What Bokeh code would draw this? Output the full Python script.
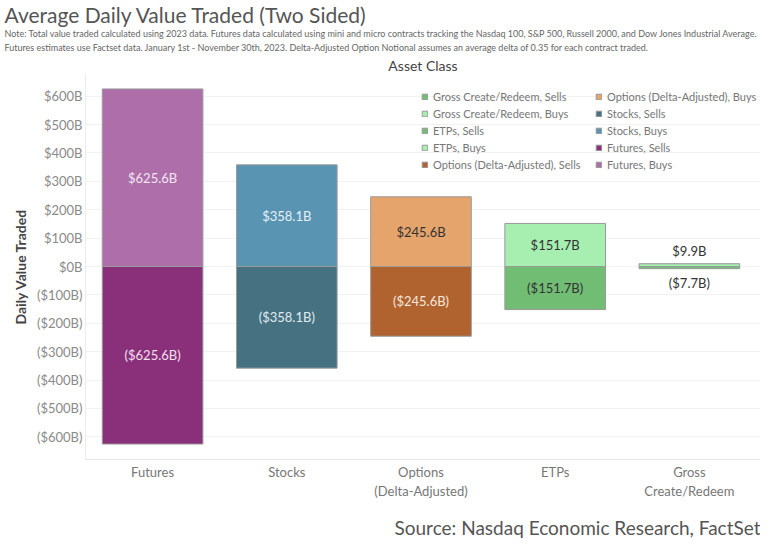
from bokeh.plotting import figure
from bokeh.models import (ColumnDataSource, FixedTicker, CustomJSTickFormatter, Range1d,
                          Legend, LegendItem, Title)
from bokeh.core.properties import value
from bokeh.embed import file_html
from bokeh.resources import INLINE

# ---- data ----
categories = ["Futures", "Stocks", "Options\n(Delta-Adjusted)", "ETPs", "Gross\nCreate/Redeem"]
buys = [625.6, 358.1, 245.6, 151.7, 9.9]
sells = [-625.6, -358.1, -245.6, -151.7, -7.7]
buy_colors = ["#ad6ea9", "#5a94b3", "#e5a46c", "#a6efb0", "#a6efb0"]
sell_colors = ["#8a2f79", "#457181", "#b0622f", "#71bd74", "#71bd74"]
buy_text_colors = ["#f2e6f1", "#e6f0f5", "#333333", "#333333", "#333333"]
sell_text_colors = ["#f0e0ee", "#e0ecf0", "#f5e8de", "#333333", "#333333"]
legend_names = ["Futures", "Stocks", "Options (Delta-Adjusted)", "ETPs", "Gross Create/Redeem"]
y_ticks = [-600, -500, -400, -300, -200, -100, 0, 100, 200, 300, 400, 500, 600]

FONT = "Lato"
x = [i + 0.5 for i in range(len(categories))]

def fmt(v):
    return "$%.1fB" % v if v >= 0 else "($%.1fB)" % (-v)

big = [abs(b) > 50 for b in buys]
src_b = ColumnDataSource(dict(x=x, top=buys, color=buy_colors))
src_s = ColumnDataSource(dict(x=x, top=sells, color=sell_colors))

W, H = 760, 550
FL, FT, FB = 85, 73, 460   # frame left / top / bottom in picture pixels
p = figure(width=W, height=H, output_backend="svg", toolbar_location=None,
           x_range=Range1d(0, 5.03), y_range=Range1d(-680, 680),
           min_border_left=FL, min_border_right=0, min_border_top=FT, min_border_bottom=H - FB)
p.outline_line_color = None
p.background_fill_color = "white"

rb = p.vbar(x="x", top="top", bottom=0, width=0.75, source=src_b, fill_color="color",
            line_color="#9a9a9a", line_width=1)
rs = p.vbar(x="x", top="top", bottom=0, width=0.75, source=src_s, fill_color="color",
            line_color="#9a9a9a", line_width=1)

# labels inside big bars
n_big = sum(big)
bsrc_in = ColumnDataSource(dict(x=x[:n_big], y=[b / 2 for b in buys[:n_big]],
                                t=[fmt(b) for b in buys[:n_big]], c=buy_text_colors[:n_big]))
ssrc_in = ColumnDataSource(dict(x=x[:n_big], y=[s / 2 for s in sells[:n_big]],
                                t=[fmt(s) for s in sells[:n_big]], c=sell_text_colors[:n_big]))
for s in (bsrc_in, ssrc_in):
    p.text(x="x", y="y", text="t", source=s, text_color="c", text_align="center",
           text_baseline="middle", text_font=value(FONT), text_font_size="13px")
# labels outside the small bar
bsrc_out = ColumnDataSource(dict(x=x[n_big:], y=buys[n_big:], t=[fmt(b) for b in buys[n_big:]]))
ssrc_out = ColumnDataSource(dict(x=x[n_big:], y=sells[n_big:], t=[fmt(s) for s in sells[n_big:]]))
p.text(x="x", y="y", text="t", source=bsrc_out, text_color="#333333", text_align="center",
       text_baseline="bottom", y_offset=-5, text_font=value(FONT), text_font_size="13px")
p.text(x="x", y="y", text="t", source=ssrc_out, text_color="#333333", text_align="center",
       text_baseline="top", y_offset=6, text_font=value(FONT), text_font_size="13px")

# axes
p.yaxis.ticker = FixedTicker(ticks=y_ticks)
p.yaxis.formatter = CustomJSTickFormatter(code="return tick >= 0 ? '$' + tick + 'B' : '($' + (-tick) + 'B)';")
p.yaxis.axis_label = "Daily Value Traded"
p.yaxis.axis_label_text_font = FONT
p.yaxis.axis_label_text_font_style = "bold"
p.yaxis.axis_label_text_font_size = "14px"
p.yaxis.axis_label_text_color = "#444444"
p.yaxis.axis_label_standoff = 5
p.yaxis.major_label_text_font = FONT
p.yaxis.major_label_text_font_size = "13px"
p.yaxis.major_label_text_color = "#8a8a8a"
p.yaxis.axis_line_color = "#ececec"
p.yaxis.major_tick_line_color = None
p.yaxis.minor_tick_line_color = None
p.yaxis.major_tick_out = 0
p.yaxis.major_tick_in = 0
p.yaxis.major_label_standoff = 3

p.xaxis.ticker = FixedTicker(ticks=x)
p.xaxis.major_label_overrides = {xi: c for xi, c in zip(x, categories)}
p.xaxis.major_label_text_font = FONT
p.xaxis.major_label_text_font_size = "13px"
p.xaxis.major_label_text_color = "#777777"
p.xaxis.axis_line_color = "#e6e6e6"
p.xaxis.major_tick_line_color = None
p.xaxis.minor_tick_line_color = None
p.xaxis.major_tick_out = 0
p.xaxis.major_tick_in = 0
p.xaxis.major_label_standoff = 4

p.xgrid.grid_line_color = None
p.ygrid.ticker = FixedTicker(ticks=y_ticks)
p.ygrid.grid_line_color = "#f2f2f2"

# legend
order = [("s", 4), ("b", 4), ("s", 3), ("b", 3), ("s", 2), ("b", 2), ("s", 1), ("b", 1), ("s", 0), ("b", 0)]
items = []
for kind, i in order:
    r = rs if kind == "s" else rb
    items.append(LegendItem(label=legend_names[i] + (", Sells" if kind == "s" else ", Buys"),
                            renderers=[r], index=i))
leg = Legend(items=items, location=(421 - FL, FB - 172), nrows=5, orientation="vertical",
             label_text_font=FONT, label_text_font_size="11px", label_text_color="#777777",
             glyph_width=7, glyph_height=7, label_height=11, label_width=158, label_standoff=5,
             spacing=4, padding=0, margin=0, border_line_color=None, background_fill_alpha=0)
p.add_layout(leg, "center")

# titles (stacked outward from the frame)
def add_title(txt, size, color, standoff, side="above", align="left", offset=4 - FL, style="normal"):
    p.add_layout(Title(text=txt, text_font=FONT, text_font_size=size, text_color=color,
                       align=align, offset=offset, standoff=standoff, text_font_style=style), side)

add_title("Asset Class", "14px", "#444444", 0, align="center", offset=0)
add_title("Futures estimates use Factset data. January 1st - November 30th, 2023. Delta-Adjusted Option Notional "
          "assumes an average delta of 0.35 for each contract traded.", "9px", "#666666", 3)
add_title("Note: Total value traded calculated using 2023 data. Futures data calculated using mini and micro contracts "
          "tracking the Nasdaq 100, S&P 500, Russell 2000, and Dow Jones Industrial Average.", "9px", "#666666", 0)
add_title("Average Daily Value Traded (Two Sided)", "21px", "#555555", -2)
add_title("Source: Nasdaq Economic Research, FactSet", "19px", "#555555", 24, side="below", align="right", offset=0)

open("out.html", "w").write(file_html(p, INLINE))
